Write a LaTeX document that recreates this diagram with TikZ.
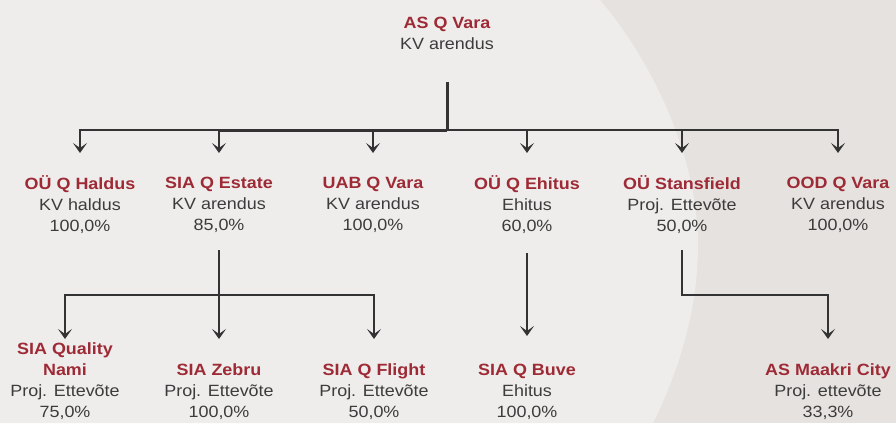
\documentclass[tikz,border=0pt]{standalone}
\usepackage{fontspec}
\setmainfont{Liberation Sans}[FakeStretch=1.1]
\usetikzlibrary{arrows.meta}
\definecolor{bgl}{HTML}{EEEDEB}
\definecolor{bgd}{HTML}{E6E2DF}
\definecolor{qred}{HTML}{9E2A36}
\definecolor{qtxt}{HTML}{3C3C3C}
\definecolor{qline}{HTML}{333333}
\newcommand\qname[1]{\textcolor{qred}{\bfseries #1}}
\begin{document}
\begin{tikzpicture}[x=1pt,y=-1pt,
  ent/.style={align=center, font=\fontsize{16.3}{21}\selectfont, text=qtxt, inner sep=0pt},
  conn/.style={draw=qline, line width=2pt},
  arr/.style={conn, -{Stealth[length=10pt,width=14pt,inset=5pt]}}]
\fill[bgd] (0,0) rectangle (896,423);
\fill[bgl] (0,0) -- (600,0) .. controls (655,65) and (698,160) .. (698,245)
  .. controls (698,320) and (672,385) .. (653,423) -- (0,423) -- cycle;
\useasboundingbox (0,0) rectangle (896,423);

% nodes
\node[ent] (root) at (447,33) {\qname{AS Q Vara}\\KV arendus};
\node[ent] (haldus) at (80,205) {\qname{OÜ Q Haldus}\\KV haldus\\100,0\%};
\node[ent] (estate) at (219,205) {\qname{SIA Q Estate}\\KV arendus\\85,0\%};
\node[ent] (uab) at (373,205) {\qname{UAB Q Vara}\\KV arendus\\100,0\%};
\node[ent] (ehitus) at (527,205) {\qname{OÜ Q Ehitus}\\Ehitus\\60,0\%};
\node[ent] (stans) at (682,205) {\qname{OÜ Stansfield}\\Proj. Ettevõte\\50,0\%};
\node[ent] (ood) at (838,205) {\qname{OOD Q Vara}\\KV arendus\\100,0\%};
\node[ent] (nami) at (65,381.5) {\qname{SIA Quality}\\\qname{Nami}\\Proj. Ettevõte\\75,0\%};
\node[ent] (zebru) at (219,392) {\qname{SIA Zebru}\\Proj. Ettevõte\\100,0\%};
\node[ent] (flight) at (374,392) {\qname{SIA Q Flight}\\Proj. Ettevõte\\50,0\%};
\node[ent] (buve) at (527,392) {\qname{SIA Q Buve}\\Ehitus\\100,0\%};
\node[ent] (maakri) at (828,392) {\qname{AS Maakri City}\\Proj. ettevõte\\33,3\%};

% connector points
\coordinate (rtop) at (447,82);
\coordinate (rbar) at (447,130);
\coordinate (t1) at (80,153);
\coordinate (t2) at (219,153);
\coordinate (t3) at (373,153);
\coordinate (t4) at (527,153);
\coordinate (t5) at (682,153);
\coordinate (t6) at (838,153);
\coordinate (etop) at (219,250);
\coordinate (ebar) at (219,295);
\coordinate (tn) at (65,339);
\coordinate (tz) at (219,339);
\coordinate (tf) at (374,339);
\coordinate (htop) at (527,253);
\coordinate (tb) at (527,336);
\coordinate (stop) at (682,250);
\coordinate (tm) at (828,339);

% root connectors
\draw[conn, line width=3pt] (rtop) -- (rbar);
\draw[conn, line width=3pt] (rbar) -- (t2 |- rbar);
\draw[arr] (rbar) -| (t1);
\draw[arr] (rbar) -| (t2);
\draw[arr] (rbar) -| (t3);
\draw[arr] (rbar) -| (t4);
\draw[arr] (rbar) -| (t5);
\draw[arr] (rbar) -| (t6);

% SIA Q Estate
\draw[conn] (etop) -- (ebar);
\draw[arr] (ebar) -| (tn);
\draw[arr] (ebar) -- (tz);
\draw[arr] (ebar) -| (tf);

% OÜ Q Ehitus
\draw[arr] (htop) -- (tb);

% OÜ Stansfield
\draw[arr] (stop) |- (ebar -| tm) -- (tm);
\end{tikzpicture}
\end{document}
